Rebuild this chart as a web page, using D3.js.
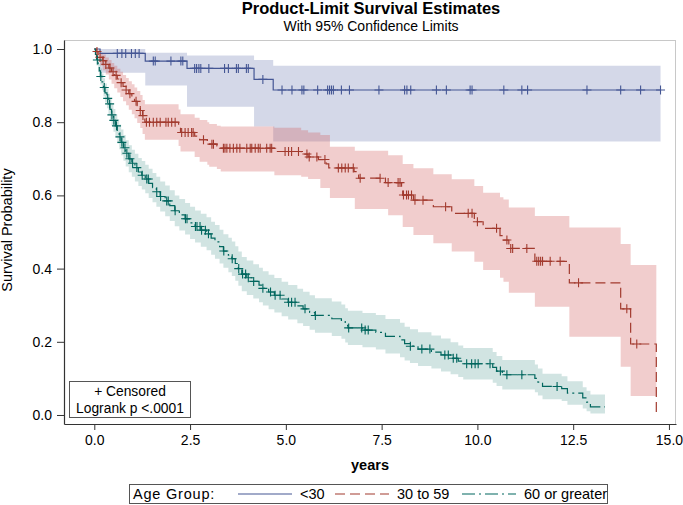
<!DOCTYPE html>
<html><head><meta charset="utf-8">
<script src="https://cdn.jsdelivr.net/npm/d3@7/dist/d3.min.js"></script>
<style>
body{margin:0;background:#fff}
text{font-family:"Liberation Sans",Arial,Helvetica,sans-serif;fill:#000}
</style>
</head><body>
<svg id="chart" width="683" height="505"></svg>
<script>
// ---------------- data ----------------
const xTicks = [0, 2.5, 5, 7.5, 10, 12.5, 15];
const yTicks = [0, 0.2, 0.4, 0.6, 0.8, 1.0];
const groupNames = ["<30", "30 to 59", "60 or greater"];

// Kaplan-Meier step curves: [years, survival]
const survYoung = [[0,1],[0.15,0.988],[1.33,0.967],[2.42,0.947],[4.17,0.917],[4.67,0.888],[14.78,0.888]];
// 95% CI band: [years, lower, upper]
const bandYoung = [[0,1,1],[0.15,0.935,1.0],[1.33,0.90,0.99],[2.42,0.842,0.982],[4.17,0.788,0.97],[4.67,0.747,0.954],[14.78,0.747,0.954]];
const censYoung = [0.6,0.72,0.82,0.97,1.07,1.17,1.54,1.59,2.0,2.26,2.31,2.62,2.67,2.73,2.78,2.99,3.4,3.5,3.71,3.76,3.97,4.02,4.4,4.9,5.16,5.42,5.47,5.83,6.09,6.14,6.19,6.24,6.45,6.66,7.43,8.1,8.16,8.26,8.93,9.19,9.81,9.86,10.69,11.16,11.31,12.86,13.74,14.26,14.78];

const survMid = [[0,1],[0.05,0.993],[0.1,0.985],[0.15,0.977],[0.22,0.968],[0.3,0.958],[0.38,0.948],[0.45,0.938],[0.52,0.928],[0.6,0.918],[0.68,0.908],[0.75,0.898],[0.83,0.888],[0.9,0.878],[0.98,0.868],[1.05,0.857],[1.12,0.845],[1.2,0.832],[1.26,0.818],[1.32,0.80],[2.2,0.785],[2.25,0.772],[2.62,0.762],[2.75,0.752],[2.95,0.745],[3.0,0.74],[3.2,0.735],[3.3,0.729],[4.7,0.72],[5.4,0.713],[5.58,0.705],[5.85,0.698],[6.05,0.686],[6.12,0.675],[6.78,0.665],[6.85,0.656],[6.9,0.647],[7.6,0.635],[8.02,0.618],[8.05,0.601],[8.33,0.587],[8.85,0.569],[9.33,0.551],[9.92,0.528],[10.15,0.51],[10.59,0.49],[10.68,0.478],[10.82,0.455],[11.5,0.42],[12.4,0.361],[13.74,0.29],[14.0,0.194],[14.67,0.0]];
const bandMid = [[0,1,1],[0.05,0.98,1.0],[0.1,0.968,0.997],[0.15,0.955,0.99],[0.22,0.942,0.985],[0.3,0.93,0.977],[0.38,0.917,0.97],[0.45,0.905,0.962],[0.52,0.893,0.954],[0.6,0.881,0.946],[0.68,0.869,0.938],[0.75,0.857,0.929],[0.83,0.846,0.921],[0.9,0.834,0.912],[0.98,0.822,0.904],[1.05,0.811,0.895],[1.12,0.798,0.885],[1.2,0.784,0.874],[1.26,0.768,0.861],[1.32,0.752,0.849],[2.2,0.735,0.835],[2.25,0.72,0.822],[2.62,0.705,0.812],[2.75,0.692,0.806],[2.95,0.684,0.8],[3.0,0.678,0.795],[3.2,0.672,0.79],[3.3,0.665,0.788],[4.7,0.655,0.785],[5.4,0.651,0.778],[5.58,0.645,0.772],[5.9,0.62,0.765],[6.15,0.593,0.733],[6.8,0.563,0.722],[7.67,0.546,0.71],[8.05,0.514,0.686],[8.33,0.492,0.674],[8.85,0.469,0.658],[9.33,0.447,0.644],[9.92,0.419,0.626],[10.15,0.396,0.607],[10.59,0.375,0.595],[10.68,0.364,0.589],[10.82,0.334,0.567],[11.5,0.296,0.544],[12.4,0.214,0.512],[13.74,0.132,0.467],[14.0,0.052,0.41],[14.67,0.052,0.41]];
const censMid = [0.07,0.15,0.23,0.3,0.41,0.49,0.57,0.7,0.83,0.93,1.09,1.2,1.27,1.36,1.44,1.54,1.63,1.72,1.87,1.93,2.02,2.11,2.28,2.37,2.45,2.54,2.58,2.85,3.07,3.11,3.37,3.41,3.46,3.54,3.63,3.72,3.8,3.98,4.07,4.11,4.2,4.28,4.33,4.5,4.59,4.63,4.98,5.07,5.15,5.33,5.55,5.61,5.81,6.02,6.37,6.46,6.55,6.63,6.76,6.94,7.46,7.67,7.93,7.98,8.07,8.15,8.2,8.28,8.37,8.58,9.17,9.76,9.86,10.0,10.5,10.77,10.87,10.92,11.29,11.55,11.6,11.65,11.7,11.9,12.16,12.64,13.9,14.16];

const survOld = [[0,1],[0.03,0.985],[0.06,0.97],[0.1,0.955],[0.13,0.94],[0.16,0.925],[0.2,0.91],[0.24,0.895],[0.28,0.88],[0.33,0.865],[0.37,0.85],[0.41,0.835],[0.45,0.82],[0.5,0.805],[0.55,0.79],[0.6,0.775],[0.65,0.76],[0.7,0.745],[0.76,0.73],[0.82,0.715],[0.9,0.70],[0.98,0.688],[1.06,0.676],[1.15,0.664],[1.24,0.655],[1.33,0.645],[1.42,0.633],[1.52,0.621],[1.62,0.61],[1.72,0.597],[1.85,0.585],[1.97,0.572],[2.1,0.558],[2.22,0.547],[2.37,0.536],[2.5,0.525],[2.63,0.515],[2.78,0.505],[2.93,0.495],[3.05,0.483],[3.15,0.473],[3.27,0.46],[3.37,0.448],[3.5,0.437],[3.59,0.427],[3.68,0.414],[3.76,0.40],[3.85,0.385],[3.98,0.375],[4.15,0.365],[4.3,0.355],[4.4,0.346],[4.55,0.336],[4.7,0.327],[4.89,0.317],[5.06,0.308],[5.3,0.298],[5.45,0.29],[5.62,0.28],[5.76,0.272],[6.2,0.263],[6.45,0.255],[6.55,0.245],[6.62,0.238],[7.0,0.232],[7.35,0.226],[7.6,0.215],[7.98,0.205],[8.1,0.195],[8.24,0.188],[8.45,0.18],[8.8,0.172],[9.05,0.164],[9.3,0.155],[9.5,0.147],[9.63,0.14],[10.4,0.13],[10.5,0.12],[10.65,0.11],[11.5,0.1],[11.58,0.09],[11.7,0.078],[12.2,0.072],[12.35,0.06],[12.75,0.047],[12.85,0.035],[12.95,0.022],[13.33,0.022]];
const bandOld = [[0,1,1],[0.03,0.975,0.995],[0.06,0.955,0.985],[0.1,0.937,0.973],[0.13,0.92,0.96],[0.16,0.903,0.947],[0.2,0.887,0.933],[0.24,0.87,0.92],[0.28,0.854,0.906],[0.33,0.838,0.892],[0.37,0.822,0.878],[0.41,0.806,0.864],[0.45,0.79,0.85],[0.5,0.774,0.836],[0.55,0.758,0.822],[0.6,0.742,0.808],[0.65,0.726,0.794],[0.7,0.71,0.78],[0.76,0.695,0.765],[0.82,0.679,0.751],[0.9,0.663,0.737],[0.98,0.651,0.725],[1.06,0.638,0.714],[1.15,0.626,0.702],[1.24,0.616,0.694],[1.33,0.606,0.684],[1.42,0.593,0.673],[1.52,0.581,0.661],[1.62,0.569,0.651],[1.72,0.556,0.638],[1.85,0.543,0.627],[1.97,0.53,0.614],[2.1,0.516,0.6],[2.22,0.504,0.59],[2.37,0.493,0.579],[2.5,0.481,0.569],[2.63,0.471,0.559],[2.78,0.46,0.55],[2.93,0.45,0.54],[3.05,0.438,0.528],[3.15,0.427,0.519],[3.27,0.414,0.506],[3.37,0.402,0.494],[3.5,0.39,0.484],[3.59,0.38,0.474],[3.68,0.367,0.461],[3.76,0.353,0.447],[3.85,0.338,0.432],[3.98,0.328,0.422],[4.15,0.318,0.412],[4.3,0.308,0.402],[4.4,0.299,0.393],[4.55,0.289,0.383],[4.7,0.28,0.374],[4.89,0.27,0.364],[5.06,0.261,0.355],[5.3,0.251,0.345],[5.45,0.243,0.337],[5.62,0.233,0.327],[5.76,0.225,0.319],[6.2,0.216,0.31],[6.45,0.208,0.302],[6.55,0.198,0.292],[6.62,0.191,0.285],[7.0,0.185,0.279],[7.35,0.179,0.273],[7.6,0.168,0.262],[7.98,0.158,0.252],[8.1,0.149,0.241],[8.24,0.142,0.234],[8.45,0.134,0.226],[8.8,0.127,0.217],[9.05,0.119,0.209],[9.3,0.111,0.199],[9.5,0.104,0.19],[9.63,0.097,0.183],[10.4,0.088,0.172],[10.5,0.079,0.161],[10.65,0.07,0.15],[11.5,0.062,0.138],[11.58,0.053,0.127],[11.7,0.043,0.113],[12.2,0.038,0.106],[12.35,0.028,0.092],[12.75,0.018,0.076],[12.85,0.01,0.066],[12.95,0.004,0.056],[13.33,0.004,0.056]];
const censOld = [0.08,0.17,0.26,0.35,0.4,0.46,0.51,0.58,0.67,0.72,0.8,0.85,0.93,1.0,1.11,1.25,1.37,1.41,1.63,1.73,1.89,1.93,2.11,2.38,2.42,2.64,2.68,2.76,2.8,2.9,2.98,3.38,3.6,3.77,3.87,3.95,4.02,4.16,4.4,4.6,4.72,4.85,5.07,5.15,5.24,5.5,5.77,6.64,6.98,7.07,7.15,8.25,8.55,8.76,9.15,9.24,9.37,9.46,9.72,9.85,9.94,10.02,10.33,10.6,10.77,11.16,12.08];

// ---------------- drawing ----------------
const groups = [
  {name: groupNames[0], surv: survYoung, band: bandYoung, cens: censYoung, line: "#445694", fill: "#6F7EB3", dash: null},
  {name: groupNames[1], surv: survMid,   band: bandMid,   cens: censMid,   line: "#A23A2E", fill: "#D05B5B", dash: "10,5"},
  {name: groupNames[2], surv: survOld,   band: bandOld,   cens: censOld,   line: "#01665E", fill: "#66A5A0", dash: "13,4,2,4"}
];

const svg = d3.select("#chart");
const L = 64, R = 676, T = 40, B = 424;
const x = d3.scaleLinear().domain([-0.791, 15.184]).range([L, R]);
const y = d3.scaleLinear().domain([-0.0246, 1.0246]).range([B, T]);

// frame (top/right light)
svg.append("line").attr("x1", L).attr("x2", R).attr("y1", T + 0.5).attr("y2", T + 0.5).attr("stroke", "#c8c8c8");
svg.append("line").attr("x1", R - 0.5).attr("x2", R - 0.5).attr("y1", T).attr("y2", B).attr("stroke", "#c8c8c8");

// bands
const area = d3.area().curve(d3.curveStepAfter)
  .x(d => x(d[0])).y0(d => y(d[1])).y1(d => y(d[2]));
groups.forEach(g => {
  svg.append("path").attr("d", area(g.band)).attr("fill", g.fill).attr("fill-opacity", 0.3);
});

// curves
const line = d3.line().curve(d3.curveStepAfter).x(d => x(d[0])).y(d => y(d[1]));
groups.forEach(g => {
  svg.append("path").attr("d", line(g.surv)).attr("fill", "none")
    .attr("stroke", g.line).attr("stroke-width", 1.2)
    .attr("stroke-dasharray", g.dash);
});

// censor marks
function survAt(curve, t) { let v = curve[0][1]; for (const p of curve) if (p[0] <= t) v = p[1]; return v; }
groups.forEach(g => {
  const gg = svg.append("g").attr("stroke", g.line).attr("stroke-width", 1.1);
  g.cens.forEach(t => {
    const cx = x(t), cy = y(survAt(g.surv, t));
    gg.append("path").attr("d", `M${cx - 4.5},${cy}H${cx + 4.5}M${cx},${cy - 4.5}V${cy + 4.5}`);
  });
});

// axes
const fmt = d3.format(".1f");
const ax = svg.append("g").attr("transform", `translate(0,${B})`)
  .call(d3.axisBottom(x).tickValues(xTicks).tickFormat(fmt).tickSize(6).tickSizeOuter(0).tickPadding(5));
const ay = svg.append("g").attr("transform", `translate(${L},0)`)
  .call(d3.axisLeft(y).tickValues(yTicks).tickFormat(fmt).tickSize(7).tickSizeOuter(0).tickPadding(5));
[ax, ay].forEach(a => {
  a.select(".domain").attr("stroke", "#333").attr("stroke-width", 1.2);
  a.selectAll(".tick line").attr("stroke", "#333");
  a.selectAll(".tick text").attr("font-size", 14).attr("fill", "#000")
    .style("font-family", '"Liberation Sans", Arial, sans-serif');
});

// axis titles
svg.append("text").attr("x", 370).attr("y", 470).attr("text-anchor", "middle")
  .attr("font-size", 14.5).attr("font-weight", "bold").text("years");
svg.append("text").attr("transform", `translate(12,230) rotate(-90)`).attr("text-anchor", "middle")
  .attr("font-size", 14.5).text("Survival Probability");

// titles
svg.append("text").attr("x", 371).attr("y", 14).attr("text-anchor", "middle")
  .attr("font-size", 16.5).attr("font-weight", "bold").text("Product-Limit Survival Estimates");
svg.append("text").attr("x", 371).attr("y", 31).attr("text-anchor", "middle")
  .attr("font-size", 14).text("With 95% Confidence Limits");

// inset box
svg.append("rect").attr("x", 69.5).attr("y", 381.5).attr("width", 121).attr("height", 36)
  .attr("fill", "#fff").attr("stroke", "#555");
svg.append("text").attr("x", 130).attr("y", 396).attr("text-anchor", "middle")
  .attr("font-size", 13.8).text("+ Censored");
svg.append("text").attr("x", 130).attr("y", 413).attr("text-anchor", "middle")
  .attr("font-size", 13.8).text("Logrank p <.0001");

// legend
svg.append("rect").attr("x", 129.5).attr("y", 484.5).attr("width", 478).attr("height", 19)
  .attr("fill", "#fff").attr("stroke", "#555");
svg.append("text").attr("x", 133).attr("y", 499).attr("font-size", 14.5)
  .attr("letter-spacing", 0.8).text("Age Group:");
const legX = [238, 335, 462];
groups.forEach((g, i) => {
  svg.append("line").attr("x1", legX[i]).attr("x2", legX[i] + 54).attr("y1", 494).attr("y2", 494)
    .attr("stroke", g.line).attr("stroke-width", 1.2).attr("stroke-dasharray", g.dash);
  svg.append("text").attr("x", legX[i] + 62).attr("y", 499).attr("font-size", 14.5).text(g.name);
});
</script>
</body></html>
